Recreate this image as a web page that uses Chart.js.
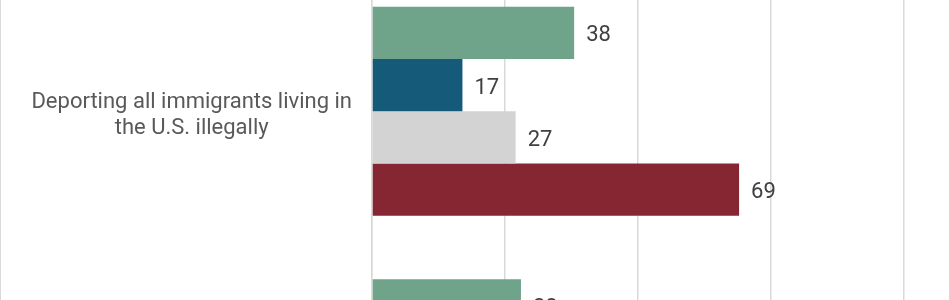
<!DOCTYPE html>
<html>
<head>
<meta charset="utf-8">
<script src="https://cdn.jsdelivr.net/npm/chart.js@4.4.1/dist/chart.umd.min.js"></script>
<style>
  html, body { margin: 0; padding: 0; background: #fff; overflow: hidden; }
  body { width: 950px; height: 300px; position: relative; }
  #wrap {
    position: absolute; left: 0; top: -25px;
    width: 950px; height: 545px; box-sizing: border-box;
    border-left: 1px solid #d9d9d9; border-right: 1px solid #d9d9d9;
  }
</style>
</head>
<body>
<div id="wrap"><canvas id="chart"></canvas></div>
<script>
// categories (second one is cut off at the bottom of the picture)
const categories = [
  ['Deporting all immigrants living in', 'the U.S. illegally'],
  ''
]
const seriesNames = ['Series 1', 'Series 2', 'Series 3', 'Series 4']
const seriesColors = ['#6fa38a', '#165a7a', '#d3d3d3', '#862633']
const series1 = [38, 28]
const series2 = [17, null]
const series3 = [27, null]
const series4 = [69, null]
const xTicks = [0, 25, 50, 75, 100]

// value labels next to each bar
const valueLabels = {
  id: 'valueLabels',
  afterDatasetsDraw (chart) {
    const ctx = chart.ctx
    ctx.save()
    ctx.font = '22px Roboto'
    ctx.fillStyle = '#404040'
    ctx.textAlign = 'left'
    ctx.textBaseline = 'middle'
    chart.data.datasets.forEach((ds, i) => {
      const meta = chart.getDatasetMeta(i)
      meta.data.forEach((bar, j) => {
        const v = ds.data[j]
        if (v === null || v === undefined) return
        ctx.fillText(String(v), bar.x + 12, bar.y + 3)
      })
    })
    ctx.restore()
  }
}

const allSeries = [series1, series2, series3, series4]

new Chart(document.getElementById('chart'), {
  type: 'bar',
  data: {
    labels: categories,
    datasets: allSeries.map((data, i) => ({
      label: seriesNames[i],
      data,
      backgroundColor: seriesColors[i],
      borderWidth: 0,
      barPercentage: 1,
      categoryPercentage: 0.767
    }))
  },
  options: {
    indexAxis: 'y',
    responsive: true,
    maintainAspectRatio: false,
    animation: false,
    layout: { padding: { top: 0, right: 45, bottom: 0, left: 0 } },
    plugins: {
      legend: { display: false },
      tooltip: { enabled: false }
    },
    scales: {
      x: {
        min: 0,
        max: 100,
        afterBuildTicks: scale => { scale.ticks = xTicks.map(v => ({ value: v })) },
        ticks: { display: false },
        grid: { color: '#d9d9d9', lineWidth: 1.5, drawTicks: false },
        border: { display: false },
        afterFit: scale => {
          scale.height = 0
          scale.paddingLeft = 0
          scale.paddingRight = 0
        }
      },
      y: {
        grid: { display: false, drawTicks: false },
        border: { display: true, color: '#d9d9d9', width: 1.5 },
        ticks: {
          crossAlign: 'center',
          padding: 20,
          labelOffset: 4,
          color: '#595959',
          font: { family: 'Roboto', size: 22, lineHeight: 1.16 }
        },
        afterFit: scale => {
          scale.width = 371
          scale.paddingTop = 0
          scale.paddingBottom = 0
        }
      }
    }
  },
  plugins: [valueLabels]
})
</script>
</body>
</html>
